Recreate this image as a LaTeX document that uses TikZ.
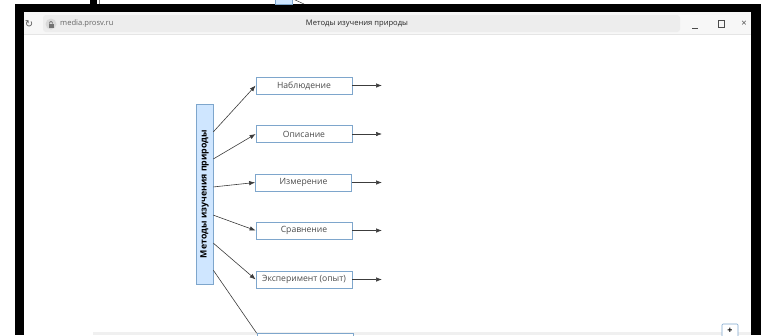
\documentclass[tikz,border=0pt]{standalone}
\usepackage{fontspec}
\setmainfont{Open Sans}
\newfontfamily\symfont{DejaVu Sans}
\usetikzlibrary{positioning,calc,arrows.meta}

\definecolor{boxline}{HTML}{7EA6CC}
\definecolor{methfill}{HTML}{CFE6FF}
\definecolor{ink}{HTML}{4A4A4A}
\definecolor{wire}{HTML}{3C3C3C}
\definecolor{barbg}{HTML}{F7F7F7}
\definecolor{fieldbg}{HTML}{EDEDED}

\tikzset{
	methodbox/.style={draw=boxline, fill=white, line width=0.7pt, minimum width=96pt,
		minimum height=17pt, inner sep=1pt, text=ink, font=\fontsize{8.6}{10}\selectfont},
	mainbox/.style={draw=boxline, fill=methfill, line width=0.7pt, minimum width=17pt,
		minimum height=180pt, inner sep=0pt, font=\fontsize{8.8}{10}\selectfont\bfseries},
	bartext/.style={inner sep=0pt, font=\fontsize{7.6}{9}\selectfont},
	wirestyle/.style={draw=wire, line width=0.6pt}
}

\begin{document}
\begin{tikzpicture}[x=1pt, y=-1pt, >={Latex[length=6pt,width=4.5pt]}]
	\useasboundingbox (0,0) rectangle (761,335);
	\clip (0,0) rectangle (761,335);

	% window frame
	\fill[black] (15,4) rectangle (761,12);
	\fill[black] (15,4) rectangle (24,335);
	\fill[black] (751,4) rectangle (761,335);
	\fill[black] (90,0) rectangle (97,4);
	\draw[gray] (99,0) -- (99,4);
	\draw[boxline, fill=methfill] (275,-3) rectangle (292,4);
	\draw[wire, line width=0.5pt] (293,-1) -- (304,4);

	% title bar
	\fill[barbg] (24,12) rectangle (751,34);
	\draw[black!10] (24,34) -- (751,34);
	\fill[fieldbg, rounded corners=3pt] (43,15) rectangle (680,32);
	\node[bartext, text=black!65] (reload) at (29,24) {\symfont\fontsize{10}{10}\selectfont ↻};
	\fill[black!15] (51,24) circle (5.5pt);
	\fill[black!55] (48.5,23.5) rectangle (53.5,27.5);
	\draw[black!55, line width=0.8pt] (49.5,23.5) arc (180:360:1.5 and 2);
	\node[bartext, text=black!60, anchor=west] (url) at (60,24) {media.prosv.ru};
	\node[bartext, text=black!85] (title) at (357,24) {Методы изучения природы};
	\draw[black!70, line width=0.6pt] (692,28) -- (698,28);
	\draw[black!70, line width=0.6pt] (718,20.5) rectangle (724.5,27);
	\node[bartext, text=black!70, font=\fontsize{9.5}{10}\selectfont] (close) at (744,23.5) {×};

	% bottom strip
	\fill[black!6] (93,332) rectangle (751,335);
	\draw[boxline, fill=white, rounded corners=1pt, line width=0.6pt] (722,324) rectangle (738,338);
	\node[inner sep=0pt, font=\fontsize{9}{9}\selectfont\bfseries] (plus) at (730,331) {+};

	% diagram
	\node[mainbox] (meth) at (204.5,194) {\rotatebox{90}{Методы изучения природы}};

	\node[methodbox] (nabl) at (304,85.5) {Наблюдение};
	\node[methodbox] (opis) at (304,134) {Описание};
	\node[methodbox] (izm) at (303.5,182.5) {Измерение};
	\node[methodbox] (srav) at (304,230.5) {Сравнение};
	\node[methodbox] (eksp) at (304,279.5) {Эксперимент (опыт)};
	\node[methodbox] (next) at (305,342) {};

	\coordinate (m1) at ($(meth.north east)!0.156!(meth.south east)$);
	\coordinate (m2) at ($(meth.north east)!0.306!(meth.south east)$);
	\coordinate (m3) at ($(meth.north east)!0.461!(meth.south east)$);
	\coordinate (m4) at ($(meth.north east)!0.617!(meth.south east)$);
	\coordinate (m5) at ($(meth.north east)!0.772!(meth.south east)$);
	\coordinate (m6) at ($(meth.north east)!0.922!(meth.south east)$);

	\draw[wirestyle, ->] (m1) to (nabl.west);
	\draw[wirestyle, ->] (m2) to (opis.west);
	\draw[wirestyle, ->] (m3) to (izm.west);
	\draw[wirestyle, ->] (m4) to (srav.west);
	\draw[wirestyle, ->] (m5) to (eksp.west);
	\draw[wirestyle] (m6) to (next.north west);

	\coordinate (nablend) at (382,85.5);
	\coordinate (opisend) at (382,134);
	\coordinate (izmend) at (382,182.5);
	\coordinate (sravend) at (382,230.5);
	\coordinate (ekspend) at (382,279.5);

	\draw[wirestyle, ->] (nabl) to (nablend);
	\draw[wirestyle, ->] (opis) to (opisend);
	\draw[wirestyle, ->] (izm) to (izmend);
	\draw[wirestyle, ->] (srav) to (sravend);
	\draw[wirestyle, ->] (eksp) to (ekspend);
\end{tikzpicture}
\end{document}
